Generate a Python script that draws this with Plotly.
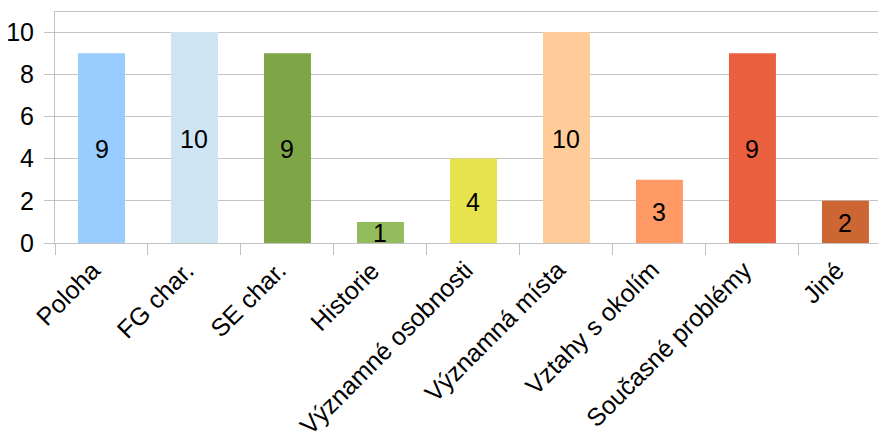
import plotly.graph_objects as go

categories = ["Poloha", "FG char.", "SE char.", "Historie", "Významné osobnosti",
              "Významná místa", "Vztahy s okolím", "Současné problémy", "Jiné"]
values = [9, 10, 9, 1, 4, 10, 3, 9, 2]
colors = ["#99ccff", "#cfe5f4", "#7ea646", "#93bd5d", "#e6e34d",
          "#ffcc99", "#ff9966", "#ea603f", "#cc6633"]
y_ticks = [0, 2, 4, 6, 8, 10]

FONT = "Liberation Sans, Arial, sans-serif"
GRID = "#c3c3c3"
TXT = dict(family=FONT, size=25, color="black")

fig = go.Figure()
fig.add_trace(go.Bar(
    x=categories, y=values,
    marker=dict(color=colors, line=dict(width=0)),
    hoverinfo="x+y",
))

# value labels centred in each bar
for cat, v in zip(categories, values):
    fig.add_annotation(
        x=cat, y=v / 2, xref="x", yref="y", text=str(v),
        showarrow=False, xanchor="center", yanchor="middle",
        yshift=-1, font=TXT,
    )

# slanted category labels hanging below the axis
for cat in categories:
    fig.add_annotation(
        x=cat, y=0, xref="x", yref="y", text=cat,
        showarrow=False, textangle=-45, xanchor="right", yanchor="top",
        xshift=7, yshift=-10, font=TXT,
    )

fig.update_layout(
    width=878, height=437,
    margin=dict(l=55, r=0, t=12, b=194),
    paper_bgcolor="white", plot_bgcolor="white",
    showlegend=False, bargap=0.495,
    font=TXT,
)
fig.update_xaxes(
    range=[-0.5, 8.35], automargin=False,
    showticklabels=False, tickson="boundaries",
    ticks="outside", ticklen=11, tickcolor=GRID, tickwidth=1,
    showline=True, linecolor=GRID, linewidth=1, mirror=True,
    showgrid=False,
)
fig.update_yaxes(
    range=[0, 10.95], tickvals=y_ticks, automargin=False,
    ticks="outside", ticklen=10, tickcolor=GRID, tickwidth=1,
    ticklabelstandoff=5,
    showline=True, linecolor=GRID, linewidth=1,
    showgrid=True, gridcolor=GRID, gridwidth=1, zeroline=False,
    tickfont=TXT,
)

fig.write_html("out.html")
